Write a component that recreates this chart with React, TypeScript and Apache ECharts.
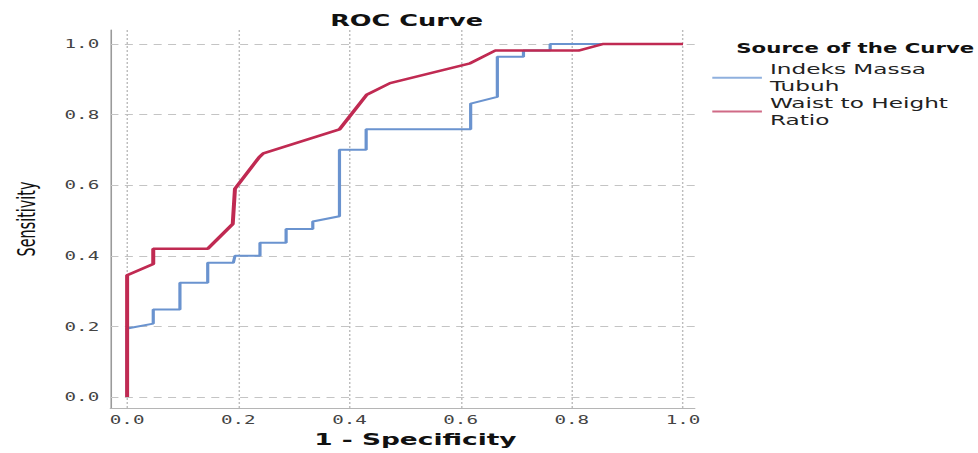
import React, { useEffect, useRef } from "react";
import * as echarts from "echarts";

// ---- data ----
const tickValues = [0, 0.2, 0.4, 0.6, 0.8, 1.0];
const seriesNames = ["Indeks Massa Tubuh", "Waist to Height Ratio"];
const legendLabels = ["Indeks Massa\nTubuh", "Waist to Height\nRatio"];

// 1 - Specificity, Sensitivity
const imtCurve: [number, number][] = [
  [0, 0], [0, 0.194], [0.047, 0.208], [0.047, 0.248], [0.095, 0.248],
  [0.095, 0.324], [0.145, 0.324], [0.145, 0.38], [0.191, 0.38], [0.194, 0.4],
  [0.239, 0.4], [0.239, 0.437], [0.286, 0.437], [0.286, 0.476], [0.334, 0.476],
  [0.334, 0.497], [0.382, 0.512], [0.382, 0.7], [0.43, 0.7], [0.43, 0.758],
  [0.618, 0.758], [0.618, 0.831], [0.666, 0.85], [0.666, 0.964], [0.713, 0.964],
  [0.713, 0.981], [0.761, 0.981], [0.761, 1.0], [1.0, 1.0],
];

const whtrCurve: [number, number][] = [
  [0, 0], [0, 0.345], [0.047, 0.377], [0.047, 0.42], [0.145, 0.42],
  [0.19, 0.49], [0.194, 0.59], [0.238, 0.68], [0.245, 0.69], [0.382, 0.758],
  [0.431, 0.856], [0.473, 0.889], [0.617, 0.945], [0.662, 0.981], [0.812, 0.981],
  [0.857, 1.0], [1.0, 1.0],
];

const BASE_W = 611;
const STRETCH = 978 / BASE_W;

export default function App() {
  const ref = useRef<HTMLDivElement>(null);

  useEffect(() => {
    if (!ref.current) return;
    const chart = echarts.init(ref.current, null, { renderer: "svg" });
    const font = "DejaVu Sans";
    const gridLines = [
      ...tickValues.map((v) => ({
        yAxis: v,
        lineStyle: { color: "#c4c4c4", type: [5, 4], width: 1 },
      })),
      ...tickValues.map((v) => ({
        xAxis: v,
        lineStyle: { color: "#bdbdbd", type: [2, 2], width: 0.9 },
      })),
    ];
    chart.setOption({
      animation: false,
      backgroundColor: "#ffffff",
      title: [
        {
          text: "ROC Curve",
          left: 254,
          top: 12,
          textAlign: "center",
          padding: 0,
          textStyle: { fontFamily: font, fontSize: 16, fontWeight: "bold", color: "#111" },
        },
        {
          text: "Source of the Curve",
          left: 460,
          top: 42,
          padding: 0,
          textStyle: { fontFamily: font, fontSize: 13.3, fontWeight: "bold", color: "#111" },
        },
      ],
      legend: {
        orient: "vertical",
        left: 445,
        top: 61,
        padding: 0,
        itemGap: 0,
        itemWidth: 31,
        itemHeight: 2,
        icon: "rect",
        data: seriesNames,
        formatter: (name: string) => legendLabels[seriesNames.indexOf(name)],
        textStyle: { fontFamily: font, fontSize: 14.5, lineHeight: 16.8, color: "#222" },
      },
      grid: { left: 69, right: 177, top: 30, bottom: 43, containLabel: false },
      xAxis: {
        type: "value",
        min: -0.03,
        max: 1.021,
        name: "1 - Specificity",
        nameLocation: "middle",
        nameGap: 23,
        nameTextStyle: {
          fontFamily: font,
          fontSize: 16.5,
          fontWeight: "bold",
          color: "#111",
          padding: [0, 0, 0, 16],
        },
        axisLine: { show: true, onZero: false, lineStyle: { color: "#b5b5b5", width: 1 } },
        axisTick: { show: false },
        splitLine: { show: false },
        axisLabel: {
          customValues: tickValues,
          margin: 6,
          formatter: (v: number) => v.toFixed(1),
          fontFamily: "DejaVu Sans Mono",
          fontSize: 12,
          color: "#444",
        },
      },
      yAxis: {
        type: "value",
        min: -0.031,
        max: 1.0394,
        name: "Sensitivity",
        nameLocation: "middle",
        nameGap: 45,
        nameTextStyle: {
          fontFamily: '"DejaVu Sans Condensed", "DejaVu Sans"',
          fontSize: 16,
          color: "#111",
        },
        axisLine: { show: true, onZero: false, lineStyle: { color: "#9a9a9a", width: 1 } },
        axisTick: { show: false },
        splitLine: { show: false },
        axisLabel: {
          customValues: tickValues,
          margin: 7,
          formatter: (v: number) => v.toFixed(1),
          fontFamily: "DejaVu Sans Mono",
          fontSize: 12,
          color: "#444",
        },
      },
      series: [
        {
          name: "grid",
          type: "line",
          data: [],
          z: 1,
          silent: true,
          markLine: {
            silent: true,
            z: 1,
            symbol: ["none", "none"],
            label: { show: false },
            animation: false,
            data: gridLines,
          },
        },
        {
          name: seriesNames[0],
          type: "line",
          data: imtCurve,
          symbol: "none",
          z: 3,
          lineStyle: { color: "#6a93cf", width: 2 },
          itemStyle: { color: "#8fb0de" },
        },
        {
          name: seriesNames[1],
          type: "line",
          data: whtrCurve,
          symbol: "none",
          z: 4,
          lineStyle: { color: "#c02a52", width: 2.5 },
          itemStyle: { color: "#d06a86" },
        },
      ],
    });
    return () => chart.dispose();
  }, []);

  return (
    <div
      ref={ref}
      style={{
        position: "absolute",
        left: 0,
        top: 0,
        width: BASE_W,
        height: 453,
        transform: `scaleX(${STRETCH})`,
        transformOrigin: "0 0",
      }}
    />
  );
}
